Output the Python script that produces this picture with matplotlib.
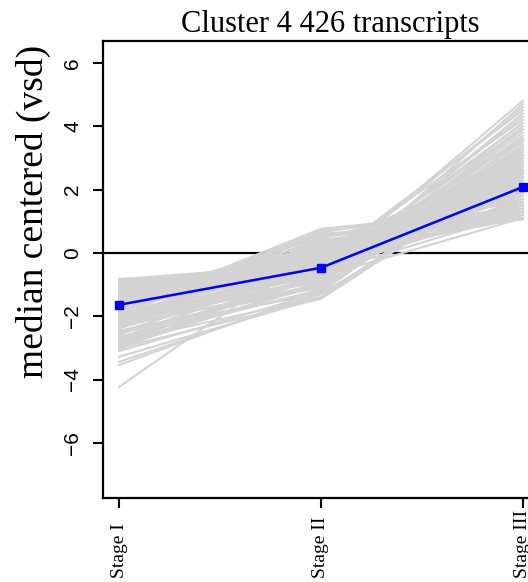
import numpy as np
import matplotlib.pyplot as plt
import matplotlib.transforms as mtransforms

plt.rcParams['font.family'] = ['Liberation Serif', 'DejaVu Serif']

stages = ['Stage I', 'Stage II', 'Stage III']
y_ticks = [-6, -4, -2, 0, 2, 4, 6]

# gray transcript profiles, one value per stage
stage_i = [
    -0.82, -0.85, -0.90, -0.95, -1.00, -1.05, -1.10, -1.15, -0.88, -0.92,
    -0.83, -0.87, -0.97, -1.02, -1.08, -1.12, -1.18, -0.94,
    -1.20, -1.25, -1.30, -1.35, -1.40, -1.45, -1.50, -1.55, -1.60, -1.65,
    -1.70, -1.75, -1.80, -1.85, -1.90, -1.95, -2.00, -1.28, -1.52, -1.62,
    -1.72, -1.82,
    -2.05, -2.10, -2.15, -2.20, -2.25, -2.30, -2.35, -2.40, -2.45, -2.50,
    -2.55, -2.60, -2.65, -2.70, -2.75, -2.80, -2.85, -2.90, -2.95, -3.00,
    -3.05, -3.10,
    -3.28, -3.44, -3.54, -4.23,
    -1.40, -2.10, -1.90, -1.10, -1.30, -2.00, -1.70, -2.30,
    -0.84, -0.86, -0.91, -0.99, -1.04, -1.14, -1.22, -1.33, -1.42, -1.48,
    -1.58, -1.68, -1.78, -1.88, -1.98, -2.08, -2.18, -2.28, -2.38, -2.48,
    -2.58, -2.68, -2.78, -2.88, -2.98, -1.38, -1.57, -1.76, -2.02, -2.22,
]
stage_ii = [
    -0.75, -0.60, -0.50, -0.70, -0.40, -0.55, -0.30, -0.65, -0.45, -0.80,
    -0.35, -0.70, -0.20, -0.85, -0.50, -0.15, -0.75, -0.60,
    -0.20, -0.45, 0.00, -0.35, 0.20, -0.10, 0.35, -0.50, 0.50, 0.10,
    0.60, -0.25, 0.76, 0.30, 0.45, -0.15, 0.65, -0.60, -0.30, -0.40,
    0.00, 0.15,
    -0.60, -0.90, 0.20, -0.40, -1.10, -0.20, -0.75, 0.40, -1.30, -0.50,
    -0.95, 0.10, -1.20, -0.30, -0.80, -1.40, -0.10, -1.00, -0.65, -1.45,
    -0.35, -1.25,
    -1.40, -1.30, -1.20, 0.20,
    -0.50, -0.70, -0.60, -0.90, -0.80, -0.90, -0.55, -1.00,
    -0.65, -0.40, -0.25, -0.55, -0.10, -0.45, 0.05, -0.20, 0.25, -0.70,
    0.40, -0.05, 0.55, 0.70, 0.00, -0.35, -0.80, 0.30, -0.55, -1.05,
    -0.15, -0.70, -1.15, -0.45, -0.90, 0.35, -0.35, 0.20, -0.25, -0.85,
]
stage_iii = [
    1.10, 1.60, 2.20, 2.80, 1.30, 3.00, 1.80, 2.50, 1.90, 3.40,
    1.40, 2.00, 1.20, 2.60, 1.70, 1.10, 3.10, 1.50,
    1.20, 2.40, 1.50, 3.60, 1.10, 2.00, 1.30, 2.90, 1.20, 2.30,
    1.05, 4.20, 1.40, 1.70, 2.10, 3.20, 1.60, 4.80, 4.50, 3.90,
    2.60, 3.00,
    2.20, 2.70, 1.50, 3.10, 2.90, 1.90, 3.50, 1.30, 2.60, 2.40,
    4.00, 1.80, 3.30, 2.00, 2.80, 3.00, 1.60, 3.70, 2.50, 2.70,
    2.20, 3.40,
    2.90, 2.50, 3.10, 1.90,
    4.60, 4.30, 4.10, 3.80, 4.40, 3.90, 3.60, 4.70,
    1.30, 1.90, 1.60, 2.30, 1.20, 2.10, 1.30, 2.70, 1.20, 3.30,
    1.10, 2.50, 1.20, 1.30, 2.20, 2.80, 3.50, 1.40, 2.60, 3.20,
    2.00, 3.00, 3.60, 2.30, 3.30, 1.20, 3.00, 1.50, 2.40, 4.10,
]

# blue cluster centre line
cluster_center = [-1.64, -0.47, 2.08]

fig = plt.figure(figsize=(5.28, 5.82), dpi=100)
ax = fig.add_axes([0.1951, 0.1443, 0.8257, 0.7853])

x = np.arange(1, len(stages) + 1)
ax.axhline(0, color='black', lw=1.6, zorder=1)

profiles = np.column_stack([stage_i, stage_ii, stage_iii])
for row in profiles:
    ax.plot(x, row, color='lightgray', lw=1.5, zorder=2)

ax.plot(x, cluster_center, color='blue', lw=1.8, marker='s', ms=6, zorder=3)

ax.set_xlim(0.92, 3.08)
ax.set_ylim(-7.74, 6.69)

# x labels start at a common baseline near the bottom edge, as in R
ax.set_xticks(x)
ax.set_xticklabels([])
trans = mtransforms.blended_transform_factory(ax.transData, fig.transFigure)
for xi, lab in zip(x, stages):
    ax.text(xi, 0.0069, lab, transform=trans, rotation=90,
            ha='center', va='bottom', fontsize=14, clip_on=False)

ax.set_yticks(y_ticks)
ax.set_yticklabels([str(v).replace('-', '\u2212') for v in y_ticks],
                   rotation=90, va='center', fontsize=15, family='Liberation Sans')
ax.tick_params(direction='out', length=7, width=1.5)
ax.tick_params(axis='y', pad=8)
for s in ax.spines.values():
    s.set_linewidth(1.6)

fig.text(0.625, 0.945, 'Cluster 4 426 transcripts', ha='center', va='baseline', fontsize=22)
fig.text(0.064, 0.6375, 'median centered (vsd)', rotation=90, ha='center', va='center', fontsize=27)

plt.savefig('out.png', dpi=100)
